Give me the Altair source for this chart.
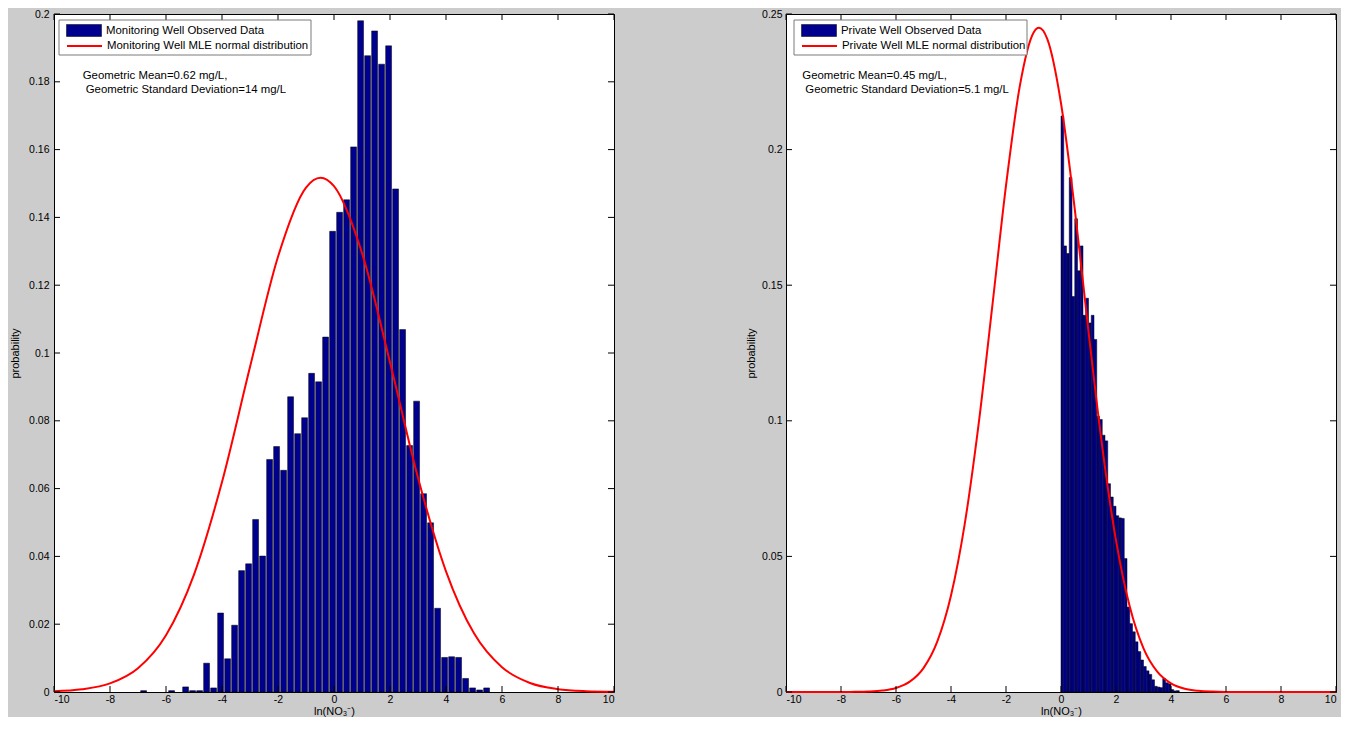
import altair as alt
import pandas as pd

FONT = "Liberation Sans"

# ---------------- data ----------------
x_ticks = [-10, -8, -6, -4, -2, 0, 2, 4, 6, 8, 10]
left_y_ticks = [0, 0.02, 0.04, 0.06, 0.08, 0.1, 0.12, 0.14, 0.16, 0.18, 0.2]
right_y_ticks = [0, 0.05, 0.1, 0.15, 0.2, 0.25]

left_bin_width = 0.25
left_centers = [-6.8, -5.8, -5.3, -5.05, -4.8, -4.55, -4.3, -4.05, -3.8, -3.55,
                -3.3, -3.05, -2.8, -2.55, -2.3, -2.05, -1.8, -1.55, -1.3, -1.05,
                -0.8, -0.55, -0.3, -0.05, 0.2, 0.45, 0.7, 0.95, 1.2, 1.45,
                1.7, 1.95, 2.2, 2.45, 2.7, 2.95, 3.2, 3.45, 3.7, 3.95,
                4.2, 4.45, 4.7, 4.95, 5.2, 5.45]
left_heights = [0.0004, 0.0004, 0.0015, 0.0004, 0.0004, 0.0085, 0.0012, 0.0233, 0.0098, 0.0197,
                0.0358, 0.0378, 0.0509, 0.0401, 0.0686, 0.0724, 0.0654, 0.0871, 0.0762, 0.0809,
                0.094, 0.0915, 0.1047, 0.1359, 0.1415, 0.1452, 0.1608, 0.198, 0.1877, 0.195,
                0.1852, 0.1906, 0.1484, 0.1069, 0.0727, 0.0858, 0.0585, 0.0499, 0.0247, 0.0102,
                0.0104, 0.0102, 0.004, 0.0012, 0.0006, 0.0012]

right_bin_width = 0.1
right_starts = [0.0, 0.1, 0.2, 0.3, 0.4, 0.5, 0.6, 0.7, 0.8, 0.9,
                1.0, 1.1, 1.2, 1.3, 1.4, 1.5, 1.6, 1.7, 1.8, 1.9,
                2.0, 2.1, 2.2, 2.3, 2.4, 2.5, 2.6, 2.7, 2.8, 2.9,
                3.0, 3.1, 3.2, 3.3, 3.4, 3.5, 3.6, 3.7, 3.8, 3.9,
                4.0, 4.1, 4.2]
right_heights = [0.2124, 0.1645, 0.1617, 0.1897, 0.1458, 0.1745, 0.1553, 0.1645, 0.1389, 0.1452,
                 0.1361, 0.1389, 0.1300, 0.1017, 0.1005, 0.0947, 0.0926, 0.0768, 0.0719, 0.0685,
                 0.0650, 0.0642, 0.0640, 0.0492, 0.0313, 0.0252, 0.0222, 0.0185, 0.0149, 0.0118,
                 0.0094, 0.0078, 0.0065, 0.0045, 0.0021, 0.0018, 0.0016, 0.0050, 0.0034, 0.0030,
                 0.0009, 0.0004, 0.0005]

left_curve_x = [-10, -9, -8, -7, -6, -5, -4, -3, -2, -1, -0.48, 0, 1, 2, 3, 4, 5, 6, 7, 8, 9, 10]
left_curve_y = [0.00022, 0.0008, 0.00254, 0.00702, 0.01677, 0.03465, 0.06194, 0.09586, 0.1284, 0.1488,
                0.1517, 0.1492, 0.1295, 0.0973, 0.0632, 0.0356, 0.0173, 0.0073, 0.00266, 0.00084,
                0.00023, 0.00005]

right_curve_x = [-10, -9, -8, -7.5, -7, -6.5, -6, -5.5, -5, -4.5, -4, -3.5, -3, -2.5, -2, -1.5,
                 -1, -0.8, -0.5, 0, 0.5, 1, 1.5, 2, 2.5, 3, 3.5, 4, 4.5, 5, 5.5, 6, 7, 8, 10]
right_curve_y = [0.0, 0.000001, 0.000014, 0.000052, 0.000175, 0.000537, 0.0015, 0.00381, 0.00882,
                 0.01857, 0.03558, 0.0620, 0.0984, 0.1421, 0.1867, 0.2233, 0.2431, 0.2449, 0.2408,
                 0.2171, 0.1781, 0.1330, 0.0904, 0.0559, 0.0315, 0.0161, 0.0075, 0.0032, 0.0012,
                 0.00043, 0.00014, 0.00004, 0.000003, 0.0, 0.0]

left_legend = ["Monitoring Well Observed Data", "Monitoring Well MLE normal distribution"]
right_legend = ["Private Well Observed Data", "Private Well MLE normal distribution"]
left_note = ["Geometric Mean=0.62 mg/L,", "Geometric Standard Deviation=14 mg/L"]
right_note = ["Geometric Mean=0.45 mg/L,", "Geometric Standard Deviation=5.1 mg/L"]

x_title = "ln(NO\u2083\u207b)"
y_title = "probability"

BAR_FILL = "#00008f"
RED = "#ff0000"
H = 678


def panel(W, bars_df, gap, curve_df, y_ticks, ymax, legend_labels, notes,
          leg_x, box, note_x, title_x, label_pad):
    xs = alt.Scale(domain=[-10, 10], nice=False, zero=False)
    ys = alt.Scale(domain=[0, ymax], nice=False, zero=True)
    x_axis = alt.Axis(values=x_ticks, labelExpr="'' + datum.value", title=x_title,
                      labelPadding=2, titlePadding=1)
    y_axis = alt.Axis(values=y_ticks, format=".2~f", title=y_title, labelPadding=label_pad,
                      titleX=title_x, titleY=H / 2, titleAngle=270, titleBaseline="middle",
                      titleAlign="center")

    def xe(f):
        return alt.X(f"{f}:Q", scale=xs, axis=x_axis)

    def ye(f):
        return alt.Y(f"{f}:Q", scale=ys, axis=y_axis)

    bars = alt.Chart(bars_df).transform_calculate(
        xa=alt.datum.lo + gap, xb=alt.datum.hi - gap
    ).mark_rect(stroke="#000000", strokeWidth=0.5).encode(
        x=xe("xa"), x2="xb:Q", y=ye("h"), y2=alt.Y2Datum(0),
        fill=alt.Fill("bar_series:N",
                      scale=alt.Scale(domain=[legend_labels[0]], range=[BAR_FILL]),
                      legend=alt.Legend(orient="none", legendX=leg_x, legendY=-1.5, title=None,
                                        symbolType="M-1,-0.343H1V0.343H-1Z", symbolSize=1225,
                                        symbolStrokeColor="#000000", symbolStrokeWidth=0.5,
                                        labelFont=FONT, labelFontSize=11.4, labelColor="black",
                                        labelLimit=400, labelOffset=4, padding=0)),
    )

    curve = alt.Chart(curve_df).mark_line(strokeWidth=2, interpolate="monotone").encode(
        x=xe("x"), y=ye("y"),
        stroke=alt.Stroke("line_series:N",
                          scale=alt.Scale(domain=[legend_labels[1]], range=[RED]),
                          legend=alt.Legend(orient="none", legendX=leg_x, legendY=13.5, title=None,
                                            symbolType="stroke", symbolSize=1225,
                                            symbolStrokeWidth=2,
                                            labelFont=FONT, labelFontSize=11.4,
                                            labelColor="black", labelLimit=400,
                                            labelOffset=4, padding=0)),
    )

    xt = pd.DataFrame({"v": x_ticks})
    yt = pd.DataFrame({"v": y_ticks})
    tb = alt.Chart(xt).mark_rule(color="black", strokeWidth=1).encode(
        x=xe("v"), y=alt.value(H), y2=alt.value(H - 6))
    tt = alt.Chart(xt).mark_rule(color="black", strokeWidth=1).encode(
        x=xe("v"), y=alt.value(0), y2=alt.value(6))
    tl = alt.Chart(yt).mark_rule(color="black", strokeWidth=1).encode(
        y=ye("v"), x=alt.value(0), x2=alt.value(6))
    tr = alt.Chart(yt).mark_rule(color="black", strokeWidth=1).encode(
        y=ye("v"), x=alt.value(W), x2=alt.value(W - 6))

    one = pd.DataFrame({"k": [0]})
    frame = alt.Chart(one).mark_rect(fill="white", stroke="#7a7a7a", strokeWidth=1).encode(
        x=alt.value(box[0]), x2=alt.value(box[1]), y=alt.value(6), y2=alt.value(41))

    n1 = alt.Chart(pd.DataFrame({"t": [notes[0]]})).mark_text(
        align="left", baseline="middle", font=FONT, fontSize=11.4, color="black").encode(
        x=alt.value(note_x), y=alt.value(62), text="t:N")
    n2 = alt.Chart(pd.DataFrame({"t": [notes[1]]})).mark_text(
        align="left", baseline="middle", font=FONT, fontSize=11.4, color="black").encode(
        x=alt.value(note_x + 3), y=alt.value(76), text="t:N")

    return alt.layer(bars, curve, tb, tt, tl, tr, frame, n1, n2).properties(width=W, height=H)


left_bars = pd.DataFrame({
    "lo": [c - left_bin_width / 2 for c in left_centers],
    "hi": [c + left_bin_width / 2 for c in left_centers],
    "h": left_heights,
    "bar_series": left_legend[0],
})
right_bars = pd.DataFrame({
    "lo": right_starts,
    "hi": [s + right_bin_width for s in right_starts],
    "h": right_heights,
    "bar_series": right_legend[0],
})
left_curve = pd.DataFrame({"x": left_curve_x, "y": left_curve_y, "line_series": left_legend[1]})
right_curve = pd.DataFrame({"x": right_curve_x, "y": right_curve_y, "line_series": right_legend[1]})

left = panel(560, left_bars, 0.02, left_curve, left_y_ticks, 0.2, left_legend, left_note,
             leg_x=12, box=(5, 257), note_x=28.7, title_x=-39, label_pad=5)
right = panel(550, right_bars, 0.0, right_curve, right_y_ticks, 0.25, right_legend, right_note,
              leg_x=15, box=(8, 241), note_x=16.3, title_x=-35, label_pad=4)

chart = alt.hconcat(left, right, spacing=125).resolve_scale(
    x="independent", y="independent", fill="independent", stroke="independent"
).resolve_legend(fill="independent", stroke="independent").properties(
    padding={"left": 0, "top": 0, "right": 0, "bottom": 0}
).configure(background="#cccccc").configure_view(
    stroke="black", strokeWidth=1, fill="white"
).configure_axis(
    labelFont=FONT, labelFontSize=10.5, labelColor="black",
    titleFont=FONT, titleFontSize=11, titleFontWeight="normal", titleColor="black",
    ticks=False, domain=False, grid=False
)

chart.save("out.html", embed_options={"renderer": "svg", "actions": False})
